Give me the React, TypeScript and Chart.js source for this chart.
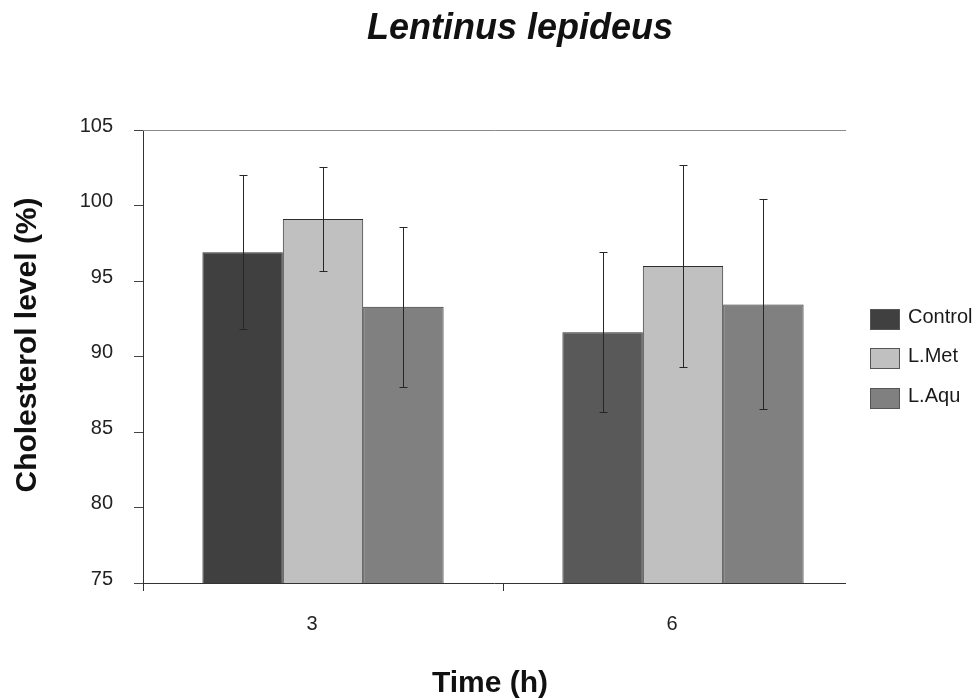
import React, { useEffect, useRef } from "react";
import { Chart, registerables } from "chart.js";

Chart.register(...registerables);

const categories = ["3", "6"];
const seriesNames = ["Control", "L.Met", "L.Aqu"];
const controlValues = [96.9, 91.6];
const controlErrors = [5.1, 5.3];
const metValues = [99.1, 96.0];
const metErrors = [3.45, 6.7];
const aquValues = [93.3, 93.45];
const aquErrors = [5.3, 6.95];
const yMin = 75;
const yMax = 105;
const yStep = 5;

const titleText = "Lentinus lepideus";
const yTitleText = "Cholesterol level (%)";
const xTitleText = "Time (h)";

const FONT = "'Liberation Sans', Arial, sans-serif";

const errorArrays = [controlErrors, metErrors, aquErrors];
const barColors = [["#404040", "#595959"], "#c0c0c0", "#808080"];
const legendColors = ["#404040", "#c0c0c0", "#808080"];

const decorPlugin = {
  id: "decor",
  afterDatasetsDraw(chart: any) {
    const ctx = chart.ctx;
    const area = chart.chartArea;
    const yScale = chart.scales.y;
    const xScale = chart.scales.x;
    ctx.save();
    // error bars
    ctx.strokeStyle = "#262626";
    ctx.lineWidth = 1;
    chart.data.datasets.forEach((ds: any, di: number) => {
      const meta = chart.getDatasetMeta(di);
      meta.data.forEach((bar: any, i: number) => {
        const v = ds.data[i];
        const e = errorArrays[di][i];
        const x = Math.round(bar.x) + 0.5;
        const yt = Math.round(yScale.getPixelForValue(v + e)) + 0.5;
        const yb = Math.round(yScale.getPixelForValue(v - e)) + 0.5;
        ctx.beginPath();
        ctx.moveTo(x, yt);
        ctx.lineTo(x, yb);
        ctx.moveTo(x - 4, yt);
        ctx.lineTo(x + 4, yt);
        ctx.moveTo(x - 4, yb);
        ctx.lineTo(x + 4, yb);
        ctx.stroke();
      });
    });
    // top line and bottom axis line
    const xEnd = 846;
    ctx.strokeStyle = "#8a8a8a";
    ctx.beginPath();
    ctx.moveTo(area.left, Math.round(area.top) + 0.5);
    ctx.lineTo(xEnd, Math.round(area.top) + 0.5);
    ctx.stroke();
    ctx.strokeStyle = "#333";
    ctx.beginPath();
    ctx.moveTo(area.left, Math.round(area.bottom) + 0.5);
    ctx.lineTo(xEnd, Math.round(area.bottom) + 0.5);
    // x tick marks between categories
    for (let i = 0; i <= categories.length; i++) {
      let px: number;
      if (i === 0) px = area.left;
      else if (i === categories.length) continue;
      else px = (xScale.getPixelForValue(i - 1) + xScale.getPixelForValue(i)) / 2;
      ctx.moveTo(Math.round(px) + 0.5, area.bottom);
      ctx.lineTo(Math.round(px) + 0.5, area.bottom + 8);
    }
    ctx.stroke();

    // legend
    const lx = 870;
    const tops = [309, 348, 388];
    ctx.font = `20px ${FONT}`;
    ctx.textBaseline = "middle";
    ctx.textAlign = "left";
    seriesNames.forEach((name, i) => {
      ctx.fillStyle = legendColors[i];
      ctx.fillRect(lx, tops[i], 30, 21);
      ctx.strokeStyle = "#555";
      ctx.strokeRect(lx + 0.5, tops[i] + 0.5, 29, 20);
      ctx.fillStyle = "#1a1a1a";
      ctx.fillText(name, 908, tops[i] + 8);
    });

    // titles
    ctx.fillStyle = "#111";
    ctx.textAlign = "center";
    ctx.textBaseline = "alphabetic";
    ctx.font = `italic bold 36px ${FONT}`;
    ctx.fillText(titleText, 520, 39);
    ctx.font = `bold 30px ${FONT}`;
    ctx.fillText(xTitleText, 490, 692);
    ctx.translate(28, 345);
    ctx.rotate(-Math.PI / 2);
    ctx.textBaseline = "middle";
    ctx.fillText(yTitleText, 0, 0);
    ctx.restore();
  },
};

export default function App() {
  const ref = useRef<HTMLCanvasElement>(null);
  useEffect(() => {
    if (!ref.current) return;
    const chart = new Chart(ref.current, {
      type: "bar",
      data: {
        labels: categories,
        datasets: [
          { label: seriesNames[0], data: controlValues, backgroundColor: barColors[0] as any },
          { label: seriesNames[1], data: metValues, backgroundColor: barColors[1] as any },
          { label: seriesNames[2], data: aquValues, backgroundColor: barColors[2] as any },
        ].map((d) => ({
          ...d,
          borderColor: "#2e2e2e",
          borderWidth: 1,
          categoryPercentage: 0.67,
          barPercentage: 1.0,
        })),
      },
      options: {
        animation: false,
        responsive: true,
        maintainAspectRatio: false,
        layout: { padding: { left: 0, right: 117, top: 130, bottom: 0 } },
        plugins: {
          legend: { display: false },
          title: { display: false },
          tooltip: { enabled: false },
        },
        scales: {
          x: {
            afterFit: (s: any) => {
              s.height = 115;
            },
            grid: { display: false, drawTicks: false, tickLength: 0 },
            border: { display: false },
            ticks: {
              color: "#222",
              font: { family: FONT, size: 20 },
              padding: 29,
              labelOffset: -11,
            },
          },
          y: {
            min: yMin,
            max: yMax,
            afterFit: (s: any) => {
              s.width = 143;
            },
            grid: {
              display: true,
              drawOnChartArea: false,
              drawTicks: true,
              tickLength: 9,
              color: "#444",
            },
            border: { display: true, color: "#333", width: 1 },
            ticks: {
              stepSize: yStep,
              color: "#222",
              font: { family: FONT, size: 20 },
              padding: 21,
              labelOffset: -4,
            },
          },
        },
      },
      plugins: [decorPlugin],
    });
    return () => chart.destroy();
  }, []);
  return (
    <div style={{ position: "fixed", left: 0, top: 0, width: 980, height: 698, background: "#fff" }}>
      <canvas ref={ref} />
    </div>
  );
}
